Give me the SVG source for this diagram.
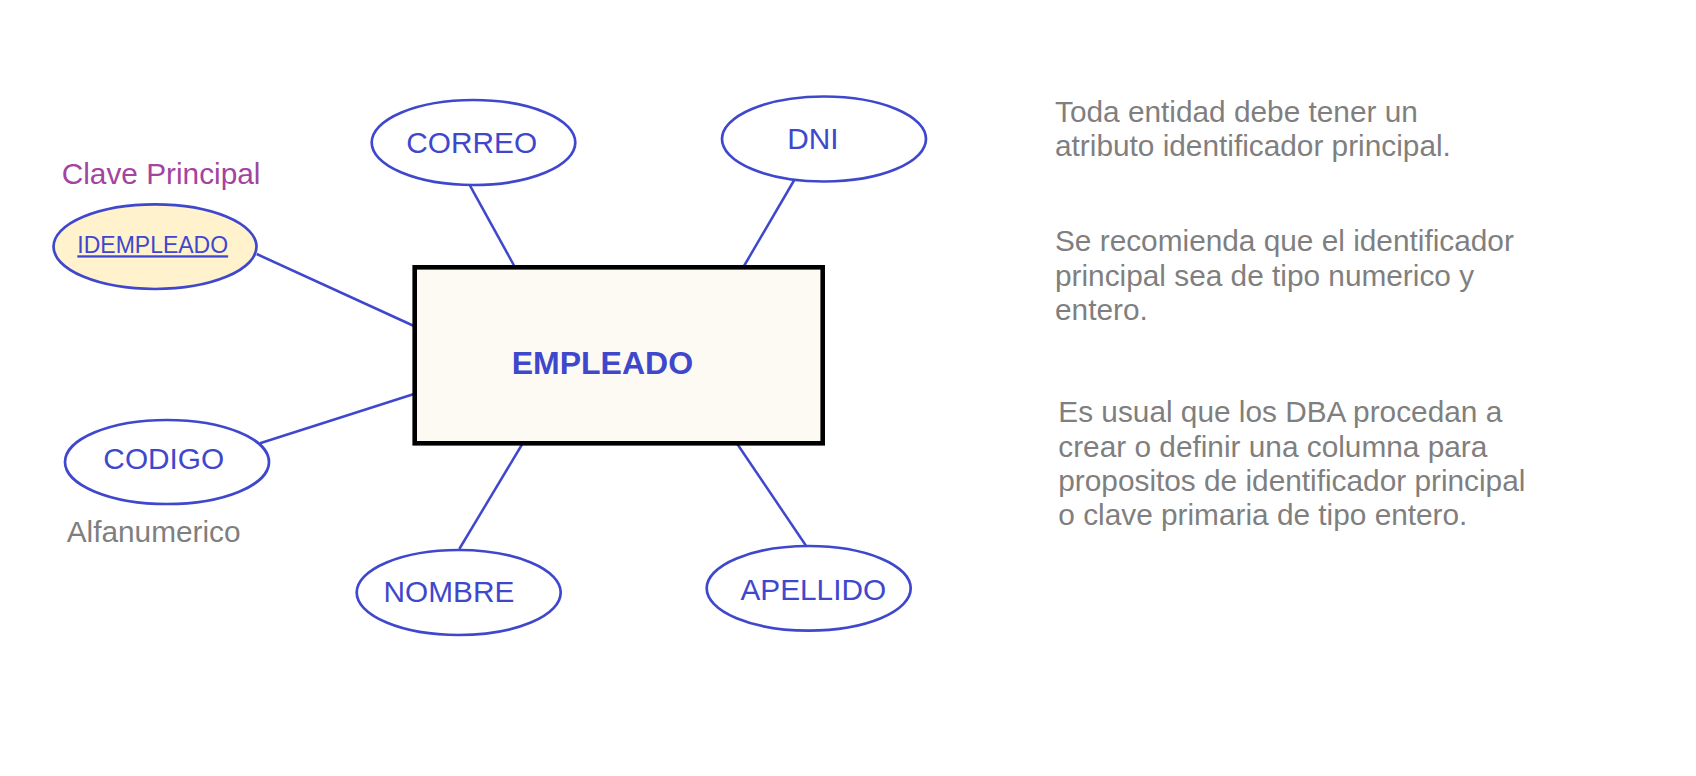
<svg xmlns="http://www.w3.org/2000/svg" width="1696" height="776" viewBox="0 0 1696 776">
<style>
.attr{fill:#ffffff;stroke:#3f48cc;stroke-width:2.7}
.key{fill:#fff2cc;stroke:#3f48cc;stroke-width:2.7}
.lbl{font-family:"Liberation Sans",Arial,sans-serif;font-size:29.8px;fill:#3f48cc;text-anchor:middle}
.note{font-family:"Liberation Sans",Arial,sans-serif;font-size:29.8px;fill:#7f7f7f}
.conn line{stroke:#3f48cc;stroke-width:2.5}
</style>
<rect width="1696" height="776" fill="#ffffff"/>
<g id="connectors" class="conn">
<line x1="256.7" y1="254" x2="414" y2="326"/>
<line x1="260" y1="443.3" x2="414" y2="394"/>
<line x1="470" y1="185.7" x2="514.3" y2="266"/>
<line x1="794" y1="180.5" x2="744" y2="266"/>
<line x1="522.3" y1="444" x2="459.3" y2="549"/>
<line x1="737.3" y1="444" x2="806.7" y2="546.7"/>
</g>
<g id="empleado">
<rect x="414.7" y="267.3" width="408" height="176" fill="#fdfaf3" stroke="#000000" stroke-width="4.6"/>
<text x="511.7" y="374" font-family="'Liberation Sans',Arial,sans-serif" font-size="32" font-weight="bold" fill="#3f48cc">EMPLEADO</text>
</g>
<g id="idempleado">
<ellipse class="key" cx="155" cy="246.7" rx="101.5" ry="42.3"/>
<text x="77.3" y="253.3" font-family="'Liberation Sans',Arial,sans-serif" font-size="23" fill="#3f48cc" text-decoration="underline">IDEMPLEADO</text>
</g>
<g id="clave-principal">
<text x="61.7" y="184" font-family="'Liberation Sans',Arial,sans-serif" font-size="29.8" fill="#a3449f">Clave Principal</text>
</g>
<g id="correo">
<ellipse class="attr" cx="473.5" cy="142.5" rx="101.8" ry="42.5"/>
<text class="lbl" x="471.7" y="153.3">CORREO</text>
</g>
<g id="dni">
<ellipse class="attr" cx="824" cy="139" rx="102" ry="42.5"/>
<text class="lbl" x="813" y="149">DNI</text>
</g>
<g id="codigo">
<ellipse class="attr" cx="167" cy="462" rx="102" ry="42"/>
<text class="lbl" x="163.8" y="469">CODIGO</text>
</g>
<g id="alfanumerico">
<text class="note" x="66.7" y="541.7">Alfanumerico</text>
</g>
<g id="nombre">
<ellipse class="attr" cx="458.7" cy="592.5" rx="102" ry="42.5"/>
<text class="lbl" x="449" y="601.7">NOMBRE</text>
</g>
<g id="apellido">
<ellipse class="attr" cx="808.7" cy="588.3" rx="102" ry="42.3"/>
<text class="lbl" x="813.3" y="600">APELLIDO</text>
</g>
<g id="nota1">
<text class="note" x="1055" y="121.7">Toda entidad debe tener un</text>
<text class="note" x="1055" y="156">atributo identificador principal.</text>
</g>
<g id="nota2">
<text class="note" x="1055" y="251">Se recomienda que el identificador</text>
<text class="note" x="1055" y="285.5">principal sea de tipo numerico y</text>
<text class="note" x="1055" y="320">entero.</text>
</g>
<g id="nota3">
<text class="note" x="1058.3" y="422.3">Es usual que los DBA procedan a</text>
<text class="note" x="1058.3" y="456.5">crear o definir una columna para</text>
<text class="note" x="1058.3" y="490.5">propositos de identificador principal</text>
<text class="note" x="1058.3" y="524.5">o clave primaria de tipo entero.</text>
</g>
</svg>
